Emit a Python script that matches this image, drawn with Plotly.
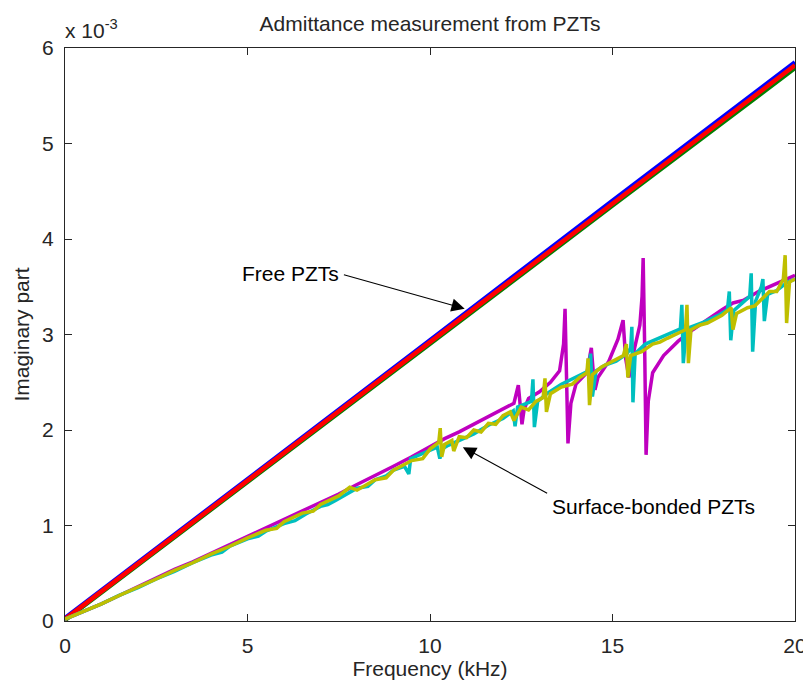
import plotly.graph_objects as go

# ---------------- data (imaginary part, in units of 1e-3) ----------------
free_f = [0, 5, 10, 15, 20]
free_blue = [0.03, 1.48, 2.94, 4.40, 5.85]
free_green = [0.01, 1.46, 2.91, 4.35, 5.79]
free_red = [0.02, 1.47, 2.92, 4.37, 5.82]

mag_f = [0, 0.5, 1, 1.5, 2, 2.5, 3, 3.5, 4, 4.5, 5, 5.5, 6, 6.5, 7, 7.5, 8, 8.5, 9, 9.5,
         10, 10.4, 10.8, 11.2, 11.6, 12.0, 12.3, 12.42, 12.47, 12.52, 12.58, 12.7, 13.0, 13.3,
         13.55, 13.66, 13.70, 13.74, 13.78, 13.86, 14.0, 14.3, 14.42, 14.47, 14.52, 14.6, 14.9,
         15.15, 15.29, 15.36, 15.45, 15.6, 15.75, 15.81, 15.84, 15.88, 15.92, 15.98, 16.1, 16.4,
         16.8, 17.2, 17.6, 18.0, 18.3, 18.6, 19.0, 19.4, 19.8, 20.0]
mag_v = [0.02, 0.10, 0.18, 0.27, 0.36, 0.45, 0.54, 0.62, 0.71, 0.80, 0.88, 0.97, 1.06, 1.15,
         1.24, 1.33, 1.43, 1.52, 1.62, 1.72, 1.83, 1.91, 1.98, 2.06, 2.13, 2.21, 2.28, 2.47,
         2.20, 2.06, 2.22, 2.33, 2.40, 2.50, 2.62, 2.90, 3.27, 2.55, 1.86, 2.28, 2.48, 2.60,
         2.86, 2.62, 2.42, 2.55, 2.72, 2.95, 3.15, 2.75, 2.55, 2.85, 3.10, 3.40, 3.80, 2.90,
         1.74, 2.30, 2.60, 2.78, 2.93, 3.05, 3.16, 3.26, 3.33, 3.36, 3.45, 3.52, 3.58, 3.62]

cyan_f = [0, 0.5, 1, 1.5, 2, 2.5, 3, 3.5, 4, 4.3, 4.5, 5, 5.3, 5.5, 6, 6.3, 6.6, 7, 7.2, 7.4,
          7.7, 8, 8.3, 8.5, 8.8, 9.0, 9.3, 9.42, 9.47, 9.6, 9.9, 10.2, 10.27, 10.33, 10.5, 10.8,
          11.2, 11.6, 12.0, 12.28, 12.33, 12.4, 12.6, 12.78, 12.82, 12.86, 12.95, 13.2, 13.6,
          14.0, 14.35, 14.4, 14.45, 14.55, 14.8, 15.1, 15.4, 15.5, 15.53, 15.56, 15.62, 15.9,
          16.3, 16.6, 16.86, 16.9, 16.94, 17.02, 17.5, 17.9, 18.15, 18.2, 18.24, 18.32, 18.6,
          18.76, 18.8, 18.84, 18.92, 19.08, 19.12, 19.16, 19.25, 19.5, 19.8, 20.0]
cyan_v = [0.02, 0.10, 0.18, 0.27, 0.35, 0.44, 0.52, 0.61, 0.69, 0.72, 0.78, 0.86, 0.89, 0.94,
          1.02, 1.05, 1.12, 1.20, 1.22, 1.26, 1.32, 1.39, 1.41, 1.48, 1.52, 1.58, 1.62, 1.54,
          1.70, 1.72, 1.77, 1.82, 1.70, 1.80, 1.84, 1.89, 1.96, 2.05, 2.12, 2.20, 2.04, 2.24,
          2.27, 2.30, 2.53, 2.03, 2.30, 2.38, 2.48, 2.55, 2.62, 2.80, 2.35, 2.62, 2.68, 2.72,
          2.80, 2.86, 3.08, 2.29, 2.80, 2.90, 2.97, 3.02, 3.06, 3.31, 2.70, 3.06, 3.13, 3.20,
          3.26, 3.45, 2.94, 3.25, 3.35, 3.40, 3.64, 2.82, 3.35, 3.50, 3.58, 3.14, 3.42, 3.46,
          3.55, 3.58]

olive_f = [0, 0.5, 1, 1.5, 2, 2.5, 3, 3.5, 4, 4.5, 5, 5.5, 5.8, 6, 6.5, 6.8, 7, 7.5, 7.8, 8.0,
           8.5, 8.8, 9.0, 9.5, 9.8, 10.0, 10.24, 10.28, 10.32, 10.4, 10.6, 10.65, 10.8, 11.0,
           11.2, 11.4, 11.6, 11.8, 12.0, 12.2, 12.3, 12.5, 12.7, 12.9, 13.1, 13.15, 13.19, 13.3,
           13.6, 13.9, 14.1, 14.3, 14.33, 14.37, 14.45, 14.7, 15.0, 15.3, 15.38, 15.42, 15.5,
           15.8, 16.1, 16.3, 16.5, 16.8, 17.0, 17.04, 17.08, 17.15, 17.4, 17.6, 18.0, 18.25,
           18.3, 18.4, 18.7, 18.9, 19.1, 19.3, 19.5, 19.68, 19.73, 19.77, 19.85, 20.0]
olive_v = [0.02, 0.10, 0.18, 0.27, 0.36, 0.44, 0.53, 0.61, 0.70, 0.78, 0.87, 0.95, 0.97, 1.04,
           1.13, 1.15, 1.22, 1.31, 1.40, 1.37, 1.48, 1.50, 1.58, 1.68, 1.70, 1.80, 1.87, 2.02,
           1.72, 1.85, 1.89, 1.78, 1.93, 1.92, 2.00, 1.98, 2.07, 2.06, 2.15, 2.19, 2.10, 2.24,
           2.21, 2.30, 2.34, 2.54, 2.19, 2.38, 2.45, 2.48, 2.55, 2.60, 2.75, 2.26, 2.58, 2.66,
           2.72, 2.78, 2.90, 2.55, 2.78, 2.82, 2.90, 2.92, 2.96, 3.02, 3.05, 3.31, 2.70, 3.05,
           3.10, 3.12, 3.20, 3.28, 3.05, 3.22, 3.28, 3.30, 3.38, 3.45, 3.45, 3.58, 3.83, 3.12,
           3.55, 3.58]

x_ticks = [0, 5, 10, 15, 20]
y_ticks = [0, 1, 2, 3, 4, 5, 6]

FONT = "Liberation Sans, Arial, Helvetica, sans-serif"
FS = 21
INK = "#262626"

# the page body adds an 8px margin, so the figure is sized to fit the window
W, H = 803, 679

fig = go.Figure()

def add(xs, ys, color, width):
    fig.add_trace(go.Scatter(x=xs, y=ys, mode="lines",
                             line=dict(color=color, width=width), showlegend=False,
                             hoverinfo="skip"))

add(free_f, free_blue, "#0000FF", 4.5)
add(free_f, free_green, "#008000", 4.5)
add(free_f, free_red, "#FF0000", 4.5)
add(mag_f, mag_v, "#BF00BF", 3.5)
add(cyan_f, cyan_v, "#00BFBF", 3.5)
add(olive_f, olive_v, "#BFBF00", 3.5)

axis_common = dict(showline=True, linecolor=INK, linewidth=1, mirror="ticks",
                   ticks="inside", ticklen=7, tickcolor=INK, showgrid=False,
                   zeroline=False, automargin=False,
                   tickfont=dict(family=FONT, size=FS, color=INK))

fig.update_layout(
    width=W, height=H,
    margin=dict(l=57, r=16, t=40, b=66),
    paper_bgcolor="white", plot_bgcolor="white",
    font=dict(family=FONT, size=FS, color=INK),
    title=dict(text="Admittance measurement from PZTs", x=(57 + 787) / 2 / W, xanchor="center",
               y=1 - 16 / H, yanchor="middle", yref="container",
               font=dict(family=FONT, size=FS, color=INK)),
    xaxis=dict(range=[0, 20], tickvals=x_ticks, ticktext=[str(v) for v in x_ticks],
               ticklabelstandoff=6,
               title=dict(text="Frequency (kHz)", standoff=4,
                          font=dict(family=FONT, size=FS, color=INK)),
               **axis_common),
    yaxis=dict(range=[0, 6], tickvals=y_ticks, ticktext=[str(v) for v in y_ticks],
               ticklabelstandoff=6,
               title=dict(text="Imaginary part", standoff=6,
                          font=dict(family=FONT, size=FS, color=INK)),
               **axis_common),
)

# exponent label
fig.add_annotation(xref="paper", yref="paper", x=0, y=1, xanchor="left", yanchor="bottom",
                   text="x 10<sup>-3</sup>", showarrow=False, yshift=4, xshift=-2,
                   font=dict(family=FONT, size=FS, color=INK))

# Free PZTs label + arrow
fig.add_annotation(xref="x", yref="y", x=7.55, y=3.64, xanchor="right", yanchor="middle",
                   text="Free PZTs", showarrow=False,
                   font=dict(family=FONT, size=FS, color="black"))
fig.add_annotation(xref="x", yref="y", axref="x", ayref="y", x=10.95, y=3.27, ax=7.6, ay=3.63,
                   text="", showarrow=True, arrowhead=2, arrowsize=2.4, arrowwidth=1.1,
                   arrowcolor="black")

# Surface-bonded PZTs label + arrow
fig.add_annotation(xref="x", yref="y", x=13.3, y=1.20, xanchor="left", yanchor="middle",
                   text="Surface-bonded PZTs", showarrow=False,
                   font=dict(family=FONT, size=FS, color="black"))
fig.add_annotation(xref="x", yref="y", axref="x", ayref="y", x=10.9, y=1.82, ax=13.25, ay=1.33,
                   text="", showarrow=True, arrowhead=2, arrowsize=2.4, arrowwidth=1.1,
                   arrowcolor="black")

fig.write_html("out.html")
